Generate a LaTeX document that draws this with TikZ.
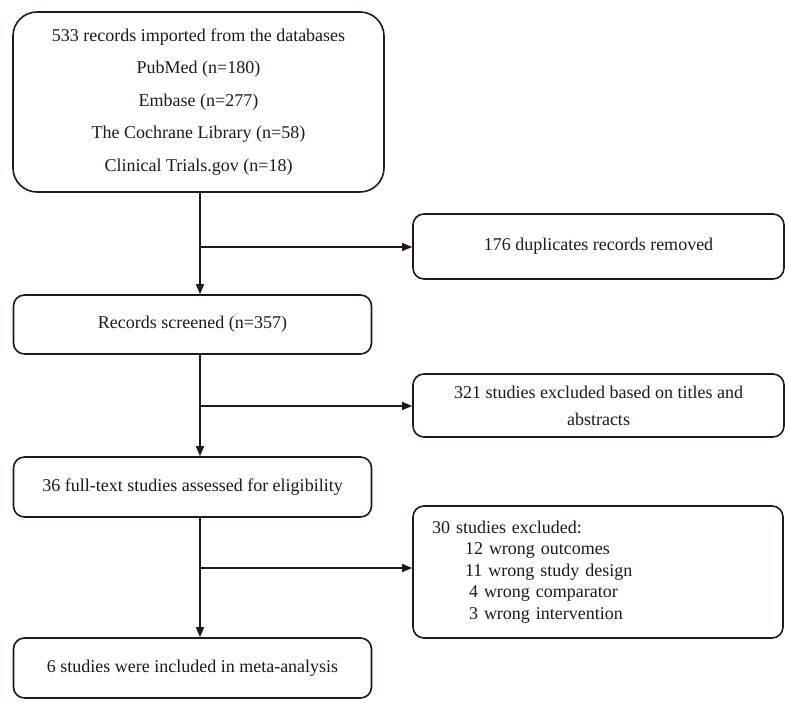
\documentclass[tikz,border=0pt]{standalone}
\usepackage{fontspec}
\setmainfont{Liberation Serif}
\usetikzlibrary{arrows.meta}

\definecolor{ink}{RGB}{35,24,21}
\tikzset{
  ->/.style={draw=ink,line width=1.3pt,-{Triangle[length=10pt,width=8pt]}},
  box/.style={draw=ink,line width=1.6pt,rounded corners=11pt,inner sep=0pt,align=center}
}
\tikzstyle{every node}=[color=ink,font=\fontsize{18}{22}\selectfont]

\begin{document}
\begin{tikzpicture}[x=1pt,y=-1pt]
    \useasboundingbox (0,0) rectangle (789,712);
    % main column
    \node[box,rounded corners=24pt,minimum width=371pt,minimum height=180pt,
          font=\fontsize{18}{32.5}\selectfont] (dbs) at (198.5,102)
         {533 records imported from the databases\\PubMed (n=180)\\Embase (n=277)\\The Cochrane Library (n=58)\\Clinical Trials.gov (n=18)};
    \node[box,minimum width=358pt,minimum height=59pt] (scr) at (192.5,324.5) {Records screened (n=357)};
    \node[box,minimum width=358pt,minimum height=60pt] (full) at (192.5,487) {36 full-text studies assessed for eligibility};
    \node[box,minimum width=358pt,minimum height=60pt] (incl) at (192.5,668) {6 studies were included in meta-analysis};
    % excluded column
    \node[box,minimum width=371pt,minimum height=65pt] (dup) at (598.5,246.5) {176 duplicates records removed};
    \node[box,minimum width=371pt,minimum height=63pt,font=\fontsize{18}{27}\selectfont] (tiab) at (598.5,405.5)
         {321 studies excluded based on titles and\\abstracts};
    \node[box,align=left,text width=332pt,inner xsep=19pt,minimum height=132pt,
          font=\fontsize{18}{21.5}\selectfont] (excl) at (598,572)
         {30 studies excluded:\\
          \hspace*{33pt}12 wrong outcomes\\
          \hspace*{33pt}11 wrong study design\\
          \hspace*{37pt}4 wrong comparator\\
          \hspace*{37pt}3 wrong intervention};
    % branch points
    \coordinate (s1) at (200,247);
    \coordinate (s2) at (200,406);
    \coordinate (s3) at (200,568);
    \draw [->] (dbs.south -| s1) -- (scr.north -| s1);
    \draw [->] (scr.south -| s2) -- (full.north -| s2);
    \draw [->] (full.south -| s3) -- (incl.north -| s3);
    \draw [->] (s1) -- (s1 -| dup.west);
    \draw [->] (s2) -- (s2 -| tiab.west);
    \draw [->] (s3) -- (s3 -| excl.west);
\end{tikzpicture}
\end{document}
